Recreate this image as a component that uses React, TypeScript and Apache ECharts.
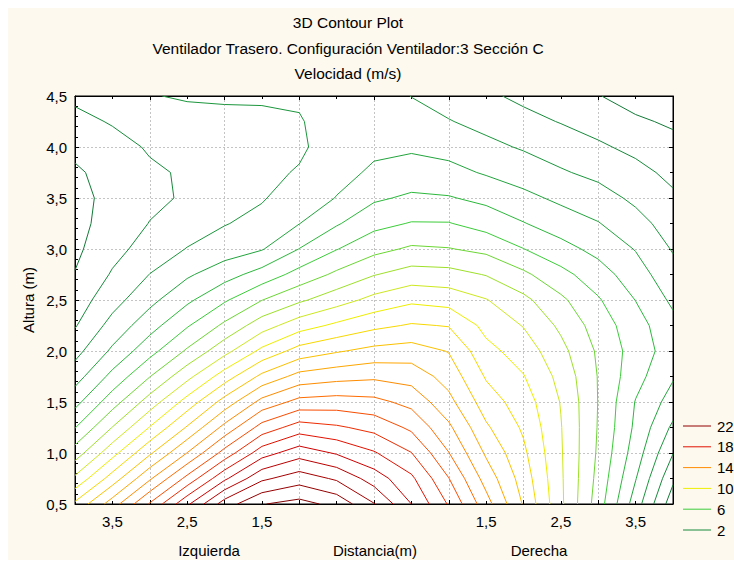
import React, { useEffect, useRef } from 'react';
import * as echarts from 'echarts';

const FONT = '"Liberation Sans", Arial, Helvetica, sans-serif';

const titleLines = [
  '3D Contour Plot',
  'Ventilador Trasero. Configuración Ventilador:3 Sección C',
  'Velocidad (m/s)',
];
const yAxisTitle = 'Altura (m)';
const xSideWords = ['Izquierda', 'Distancia(m)', 'Derecha'];

// grid nodes of the velocity field (distance, height)
const xNodes = [-4, -3.5, -3, -2.5, -2, -1.5, -1, -0.5, 0, 0.5, 1, 1.5, 2, 2.5, 3, 3.5, 4];
const yNodes = [0.5, 0.75, 1.0, 1.25, 1.5, 1.75, 2.0, 2.25, 2.5, 2.75, 3.0, 3.25, 3.5, 3.75, 4.0, 4.25, 4.5];

// velocity (m/s), one row per height
const velAt050 = [11.2, 13.5, 16.1, 18.8, 21.5, 22.95, 23.35, 22.7, 21.05, 19.0, 16.9, 14.4, 11.9, 9.2, 6.5, 3.5, 0.4];
const velAt075 = [9.21, 11.45, 13.85, 16.3, 18.8, 20.8, 21.54, 20.85, 19.53, 18.2, 16.03, 13.6, 11.55, 9.15, 6.7, 4.05, 1.2];
const velAt100 = [7.48, 9.65, 11.84, 14.02, 16.38, 18.56, 19.57, 18.9, 18.1, 17.03, 15.03, 12.85, 11.2, 9.1, 6.85, 4.5, 2.03];
const velAt125 = [5.96, 8.03, 10.05, 12.1, 14.3, 16.4, 17.47, 17.15, 16.69, 15.8, 14.2, 12.15, 10.85, 9.05, 6.93, 4.8, 2.8];
const velAt150 = [4.68, 6.56, 8.46, 10.4, 12.4, 14.33, 15.33, 15.45, 15.28, 14.7, 13.3, 11.5, 10.5, 8.95, 6.97, 4.95, 3.57];
const velAt175 = [3.56, 5.3, 6.97, 8.7, 10.5, 12.25, 13.35, 13.65, 13.82, 13.6, 12.6, 10.9, 10.05, 8.7, 6.95, 5.35, 4.1];
const velAt200 = [2.66, 4.18, 5.65, 7.14, 8.67, 10.25, 11.4, 11.9, 12.3, 12.45, 11.95, 10.3, 9.55, 8.3, 6.85, 5.55, 4.5];
const velAt225 = [1.92, 3.35, 4.6, 5.9, 7.2, 8.55, 9.56, 10.2, 10.75, 11.1, 10.95, 9.7, 8.95, 7.8, 6.55, 5.4, 4.3];
const velAt250 = [1.48, 2.62, 3.72, 4.8, 5.87, 6.98, 7.83, 8.57, 9.3, 9.8, 9.6, 9.05, 8.25, 7.2, 6.1, 4.98, 3.8];
const velAt275 = [1.04, 2.1, 3.02, 3.85, 4.6, 5.4, 6.36, 7.2, 7.95, 8.42, 8.35, 7.95, 7.2, 6.3, 5.45, 4.45, 3.35];
const velAt300 = [0.8, 1.68, 2.41, 3.04, 3.49, 3.93, 5.02, 5.96, 6.7, 7.15, 7.05, 6.75, 6.02, 5.35, 4.7, 3.95, 2.92];
const velAt325 = [0.7, 1.4, 2.03, 2.5, 2.95, 3.3, 3.98, 4.9, 5.7, 6.06, 6.05, 5.6, 5.05, 4.5, 4.05, 3.35, 2.55];
const velAt350 = [0.7, 1.28, 1.78, 2.12, 2.56, 2.92, 3.5, 4.03, 4.85, 5.16, 5.07, 4.75, 4.25, 3.8, 3.4, 2.8, 2.16];
const velAt375 = [0.85, 1.38, 1.85, 2.12, 2.45, 2.7, 3.1, 3.75, 4.12, 4.44, 4.3, 3.9, 3.55, 3.1, 2.75, 2.3, 1.75];
const velAt400 = [1.25, 1.65, 2.1, 2.35, 2.45, 2.6, 2.8, 3.6, 3.85, 3.85, 3.65, 3.25, 2.9, 2.55, 2.15, 1.75, 1.32];
const velAt425 = [1.72, 2.08, 2.5, 2.65, 2.7, 2.75, 2.92, 3.5, 3.65, 3.4, 3.05, 2.7, 2.3, 1.95, 1.6, 1.15, 0.85];
const velAt450 = [2.2, 2.5, 2.95, 3.1, 3.15, 3.15, 3.15, 3.45, 3.5, 2.98, 2.58, 2.17, 1.78, 1.41, 1.04, 0.6, 0.3];

const contourLevels = [1, 2, 3, 4, 5, 6, 7, 8, 9, 10, 11, 12, 13, 14, 15, 16, 17, 18, 19, 20, 21, 22, 23];
const levelColors = [
  '#127a36', '#168a3a', '#1b963c', '#22a43d', '#2cb83c', '#3ccc3a', '#6cd634', '#9ee02a',
  '#cde820', '#eeee00', '#f7d800', '#fcc000', '#ffa600', '#ff8c00', '#ff6c00', '#f84c00',
  '#ee2c00', '#e01200', '#cc0000', '#b80000', '#a50000', '#940000', '#820000',
];
const legendLevels = [22, 18, 14, 10, 6, 2];

const xTickValues = [-3.5, -2.5, -1.5, 1.5, 2.5, 3.5];
const xTickLabels = ['3,5', '2,5', '1,5', '1,5', '2,5', '3,5'];

const velocityRows = [
  velAt050, velAt075, velAt100, velAt125, velAt150, velAt175, velAt200, velAt225, velAt250,
  velAt275, velAt300, velAt325, velAt350, velAt375, velAt400, velAt425, velAt450,
];

type P = [number, number];

function segmentsFor(level: number): P[][] {
  const segs: P[][] = [];
  for (let j = 0; j < yNodes.length - 1; j++) {
    for (let i = 0; i < xNodes.length - 1; i++) {
      const A: P = [xNodes[i], yNodes[j]];
      const B: P = [xNodes[i + 1], yNodes[j]];
      const C: P = [xNodes[i + 1], yNodes[j + 1]];
      const D: P = [xNodes[i], yNodes[j + 1]];
      const a = velocityRows[j][i];
      const b = velocityRows[j][i + 1];
      const c = velocityRows[j + 1][i + 1];
      const d = velocityRows[j + 1][i];
      const cut = (va: number, vb: number, pa: P, pb: P): P => {
        const t = (level - va) / (vb - va);
        return [pa[0] + t * (pb[0] - pa[0]), pa[1] + t * (pb[1] - pa[1])];
      };
      const ha = a >= level, hb = b >= level, hc = c >= level, hd = d >= level;
      const e0 = ha !== hb ? cut(a, b, A, B) : null;
      const e1 = hb !== hc ? cut(b, c, B, C) : null;
      const e2 = hd !== hc ? cut(d, c, D, C) : null;
      const e3 = ha !== hd ? cut(a, d, A, D) : null;
      const pts = [e0, e1, e2, e3].filter((p) => p !== null) as P[];
      if (pts.length === 2) {
        segs.push([pts[0], pts[1]]);
      } else if (pts.length === 4) {
        const center = (a + b + c + d) / 4 >= level;
        if (ha === center) {
          segs.push([e0 as P, e1 as P]);
          segs.push([e2 as P, e3 as P]);
        } else {
          segs.push([e0 as P, e3 as P]);
          segs.push([e1 as P, e2 as P]);
        }
      }
    }
  }
  return segs;
}

function chain(segs: P[][]): P[][] {
  const key = (p: P) => p[0].toFixed(6) + ',' + p[1].toFixed(6);
  const map = new Map<string, number[]>();
  segs.forEach((s, idx) => {
    s.forEach((p) => {
      const k = key(p);
      if (!map.has(k)) map.set(k, []);
      map.get(k)!.push(idx);
    });
  });
  const used = segs.map(() => false);
  const lines: P[][] = [];
  for (let s = 0; s < segs.length; s++) {
    if (used[s]) continue;
    used[s] = true;
    const line: P[] = [segs[s][0], segs[s][1]];
    const extend = (atEnd: boolean) => {
      for (;;) {
        const p = atEnd ? line[line.length - 1] : line[0];
        const cands = map.get(key(p)) || [];
        const nxt = cands.find((i) => !used[i]);
        if (nxt === undefined) break;
        used[nxt] = true;
        const sg = segs[nxt];
        const other = key(sg[0]) === key(p) ? sg[1] : sg[0];
        if (atEnd) line.push(other);
        else line.unshift(other);
      }
    };
    extend(true);
    extend(false);
    lines.push(line);
  }
  return lines;
}

function buildOption() {
  const series: any[] = contourLevels.map((lv, k) => ({
    type: 'lines',
    name: String(lv),
    coordinateSystem: 'cartesian2d',
    xAxisIndex: 0,
    yAxisIndex: 0,
    polyline: true,
    silent: true,
    z: 5,
    lineStyle: { color: levelColors[k], width: 1, opacity: 1 },
    data: chain(segmentsFor(lv)).map((c) => ({ coords: c })),
  }));

  const graphic: any[] = [];
  const titleY = [22, 48, 73];
  titleLines.forEach((t, i) => {
    graphic.push({
      type: 'text',
      x: 348,
      y: titleY[i],
      style: { text: t, fill: '#000', font: '15.5px ' + FONT, textAlign: 'center', textVerticalAlign: 'middle' },
    });
  });
  graphic.push({
    type: 'text',
    x: 28,
    y: 300,
    rotation: Math.PI / 2,
    style: { text: yAxisTitle, fill: '#000', font: '15px ' + FONT, textAlign: 'center', textVerticalAlign: 'middle' },
  });
  const wordX = [209, 375, 539];
  xSideWords.forEach((w, i) => {
    graphic.push({
      type: 'text',
      x: wordX[i],
      y: 550,
      style: { text: w, fill: '#000', font: '15px ' + FONT, textAlign: 'center', textVerticalAlign: 'middle' },
    });
  });
  legendLevels.forEach((lv, k) => {
    const y = 426 + 20.8 * k;
    const col = levelColors[contourLevels.indexOf(lv)];
    graphic.push({
      type: 'line',
      shape: { x1: 683, y1: y, x2: 711, y2: y },
      style: { stroke: col, lineWidth: 1 },
    });
    graphic.push({
      type: 'text',
      x: 717,
      y,
      style: { text: String(lv), fill: '#000', font: '15px ' + FONT, textAlign: 'left', textVerticalAlign: 'middle' },
    });
  });

  const frameLine = { show: true, onZero: false, lineStyle: { color: '#000', width: 1 } };
  const tick = { show: true, inside: true, length: 4, lineStyle: { color: '#000', width: 1 } };
  const grid = { show: true, left: 75, top: 96, right: 61, bottom: 58, backgroundColor: '#ffffff', borderColor: '#000', borderWidth: 1 };
  const dashed = { show: true, lineStyle: { color: '#c4c4c4', width: 1, type: [2, 2] } };

  return {
    animation: false,
    grid,
    xAxis: [
      {
        type: 'value', min: -4, max: 4, interval: 1, position: 'bottom',
        axisLine: frameLine, axisTick: tick,
        minorTick: { show: true, splitNumber: 2, length: 3, lineStyle: { color: '#000' } },
        splitLine: dashed, axisLabel: { show: false },
      },
      {
        type: 'value', min: -4, max: 4, interval: 0.5, position: 'bottom',
        axisLine: { show: false, onZero: false }, axisTick: { show: false }, splitLine: { show: false },
        axisLabel: {
          show: true, margin: 10, fontSize: 15, color: '#000', fontFamily: FONT,
          formatter: (v: number) => {
            const idx = xTickValues.findIndex((t) => Math.abs(t - v) < 1e-9);
            return idx >= 0 ? xTickLabels[idx] : '';
          },
        },
      },
      {
        type: 'value', min: -4, max: 4, interval: 1, position: 'top',
        axisLine: frameLine, axisTick: tick,
        minorTick: { show: true, splitNumber: 2, length: 3, lineStyle: { color: '#000' } },
        splitLine: { show: false }, axisLabel: { show: false },
      },
    ],
    yAxis: [
      {
        type: 'value', min: 0.5, max: 4.5, interval: 0.5, position: 'left',
        axisLine: frameLine, axisTick: tick,
        minorTick: { show: true, splitNumber: 5, length: 3, lineStyle: { color: '#000' } },
        splitLine: dashed,
        axisLabel: {
          show: true, margin: 8, fontSize: 15, color: '#000', fontFamily: FONT,
          formatter: (v: number) => v.toFixed(1).replace('.', ','),
        },
      },
      {
        type: 'value', min: 0.5, max: 4.5, interval: 0.5, position: 'right',
        axisLine: frameLine, axisTick: tick,
        minorTick: { show: true, splitNumber: 2, length: 3, lineStyle: { color: '#000' } },
        splitLine: { show: false }, axisLabel: { show: false },
      },
    ],
    series,
    graphic,
  };
}

export default function App() {
  const ref = useRef<HTMLDivElement>(null);
  useEffect(() => {
    const chart = echarts.init(ref.current as HTMLDivElement, null, { renderer: 'svg' });
    chart.setOption(buildOption() as any);
    return () => chart.dispose();
  }, []);
  return (
    <div style={{ position: 'fixed', left: 0, top: 0, width: 734, height: 562, background: '#ffffff', overflow: 'hidden' }}>
      <div style={{ position: 'absolute', left: 8, top: 8, width: 726, height: 552, background: '#fdf9ef' }} />
      <div ref={ref} style={{ position: 'absolute', left: 0, top: 0, width: 734, height: 562 }} />
    </div>
  );
}
